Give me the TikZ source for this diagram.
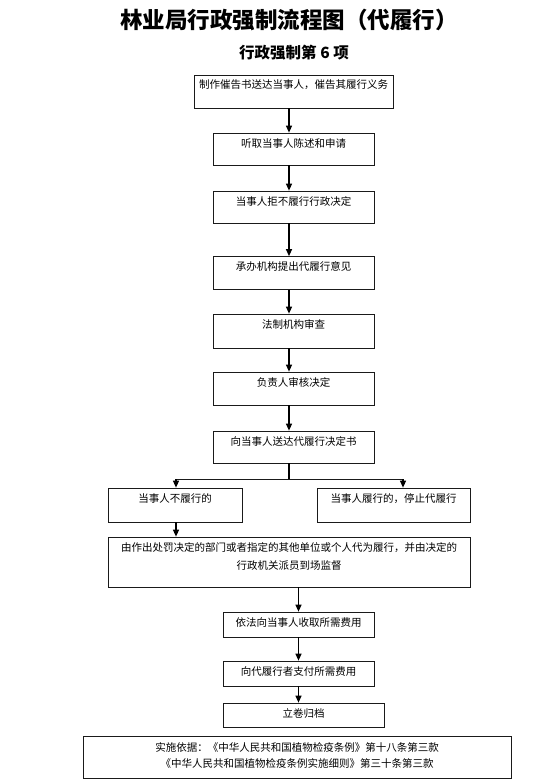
\documentclass[tikz,border=0pt]{standalone}
\usepackage{fontspec}
\setmainfont{Noto Sans CJK SC}
\usepackage{tikz}
\usetikzlibrary{arrows.meta, positioning, calc}
\definecolor{flowline}{HTML}{000000}
\definecolor{flowedge}{HTML}{1A1A1A}

\begin{document}
\begin{tikzpicture}[
    x=1pt, y=-1pt,
    stepbox/.style={rectangle, draw=flowedge, line width=0.7pt, minimum width=#1,
                    inner xsep=3pt, inner ysep=2pt, text height=12pt,
                    font=\fontsize{10.5}{18}\selectfont},
    flowarrow/.style={draw=flowline, line width=1.2pt, -{Triangle[length=7pt,width=6pt]}},
    flowline/.style={draw=flowline, line width=1.2pt},
]
\useasboundingbox (0,0) rectangle (555,781);

% Headings
\node[font=\fontsize{22.5}{26}\selectfont\bfseries] (title) at (289,20) {林业局行政强制流程图（代履行）};
\node[font=\fontsize{15.5}{18}\selectfont\bfseries] (subtitle) at (294,53) {行政强制第 6 项};

% Main column
\coordinate (spine) at (289,0);
\node[stepbox=199pt, text depth=17pt] (notice) at (293.5,91.5) {制作催告书送达当事人，催告其履行义务};
\node[stepbox=161pt, text depth=16pt] (hear) at (293.5,149) {听取当事人陈述和申请};
\node[stepbox=161pt, text depth=16pt] (refuse) at (293.5,207) {当事人拒不履行行政决定};
\node[stepbox=161pt, text depth=17pt] (propose) at (293.5,273) {承办机构提出代履行意见};
\node[stepbox=161pt, text depth=18pt] (legal) at (293.5,331) {法制机构审查};
\node[stepbox=161pt, text depth=17pt] (approve) at (293.5,388.5) {负责人审核决定};
\node[stepbox=161pt, text depth=16pt] (deliver) at (293.5,447) {向当事人送达代履行决定书};

\foreach \a/\b in {notice/hear, hear/refuse, refuse/propose, propose/legal, legal/approve, approve/deliver}
    \draw[flowarrow] (\a.south -| spine) -- (\b.north -| spine);

% Branch
\node[stepbox=134pt, text depth=18pt] (nolv) at (175,505) {当事人不履行的};
\node[stepbox=153pt, text depth=18pt] (lv) at (393.5,505) {当事人履行的，停止代履行};
\coordinate (forkL) at (176,479);
\coordinate (forkR) at (403,479);
\coordinate (forkM) at (289,479);
\draw[flowline] (deliver.south -| spine) -- (forkM);
\draw[draw=flowedge, line width=0.7pt] (forkL) -- (forkR);
\draw[flowarrow] (forkL) -- (forkL |- lv.north);
\draw[flowarrow] (forkR) -- (forkR |- lv.north);

% Execution
\node[stepbox=362pt, text width=356pt, align=center, text depth=34pt] (exec) at (289,562)
    {由作出处罚决定的部门或者指定的其他单位或个人代为履行，并由决定的\\行政机关派员到场监督};
\draw[flowarrow] (forkL |- nolv.south) -- (forkL |- exec.north);

% Closing steps
\node[stepbox=151pt, text depth=9pt] (charge) at (298.5,624.5) {依法向当事人收取所需费用};
\node[stepbox=151pt, text depth=9pt] (pay) at (298.5,673.5) {向代履行者支付所需费用};
\node[stepbox=161pt, text depth=8pt] (archive) at (303.5,715) {立卷归档};
\draw[flowarrow] (charge.north |- exec.south) -- (charge.north);
\draw[flowarrow] (charge.south) -- (pay.north);
\draw[flowarrow] (pay.south) -- (pay.south |- archive.north);

% Basis
\node[stepbox=428pt, text width=422pt, align=center, text height=13pt, text depth=25pt,
      font=\fontsize{10.5}{16}\selectfont] (basis) at (297,757)
    {实施依据：《中华人民共和国植物检疫条例》第十八条第三款\\《中华人民共和国植物检疫条例实施细则》第三十条第三款};

\end{tikzpicture}
\end{document}
